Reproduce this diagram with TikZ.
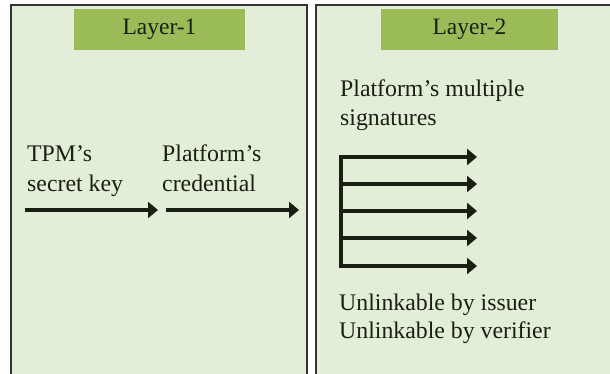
\documentclass[tikz,border=0pt]{standalone}
\usepackage{fontspec}
\setmainfont{Liberation Serif}
\usetikzlibrary{arrows.meta}
\definecolor{panelbg}{HTML}{E3EED8}
\definecolor{headbg}{HTML}{9BBB59}
\definecolor{inkdark}{HTML}{1A1F14}
\begin{document}
\begin{tikzpicture}[x=1pt,y=-1pt,
  panel/.style={draw=black!80,line width=1.8pt,fill=panelbg},
  header/.style={fill=headbg,minimum height=41pt,inner sep=0pt,font=\fontsize{23.5}{28}\selectfont,text=inkdark},
  label/.style={anchor=base west,inner sep=0pt,font=\fontsize{23.8}{28}\selectfont,text=inkdark},
  flow/.style={draw=inkdark,line width=3.3pt,-{Triangle[length=10pt,width=16pt]}},
  trunk/.style={draw=inkdark,line width=3.3pt}]
  \useasboundingbox (0,0) rectangle (610,374);
  \begin{scope}
    \clip (0,0) rectangle (610,374);
    % two layer panels, open at the bottom and right edge
    \draw[panel] (11,5) rectangle (307,390);
    \draw[panel] (316,5) rectangle (630,390);
  \end{scope}

  % headers
  \node[header,minimum width=171pt] (h1) at (159.5,29.5) {Layer-1};
  \node[header,minimum width=177pt] (h2) at (469.5,29.5) {Layer-2};

  % Layer-1 contents
  \node[label] (tpm1) at (27,162) {TPM’s};
  \node[label] (tpm2) at (27,192) {secret key};
  \node[label] (pc1) at (162,162) {Platform’s};
  \node[label] (pc2) at (162,192) {credential};
  \coordinate (a1s) at (25,210);
  \coordinate (a1e) at (158,210);
  \coordinate (a2s) at (166,210);
  \coordinate (a2e) at (299,210);
  \draw[flow] (a1s) -- (a1e);
  \draw[flow] (a2s) -- (a2e);

  % Layer-2 contents
  \node[label] (ms1) at (340,97) {Platform’s multiple};
  \node[label] (ms2) at (340,126) {signatures};
  \coordinate (t1) at (341,157);
  \coordinate (t2) at (341,184);
  \coordinate (t3) at (341,211);
  \coordinate (t4) at (341,238);
  \coordinate (t5) at (341,266);
  \coordinate (e1) at (477,157);
  \coordinate (e2) at (477,184);
  \coordinate (e3) at (477,211);
  \coordinate (e4) at (477,238);
  \coordinate (e5) at (477,266);
  \draw[trunk] ([yshift=-1.65pt]t1) -- ([yshift=1.65pt]t5);
  \foreach \i in {1,...,5} \draw[flow] ([xshift=-1.65pt]t\i) -- (e\i);
  \node[label] (u1) at (339,310) {Unlinkable by issuer};
  \node[label] (u2) at (339,338) {Unlinkable by verifier};
\end{tikzpicture}
\end{document}
